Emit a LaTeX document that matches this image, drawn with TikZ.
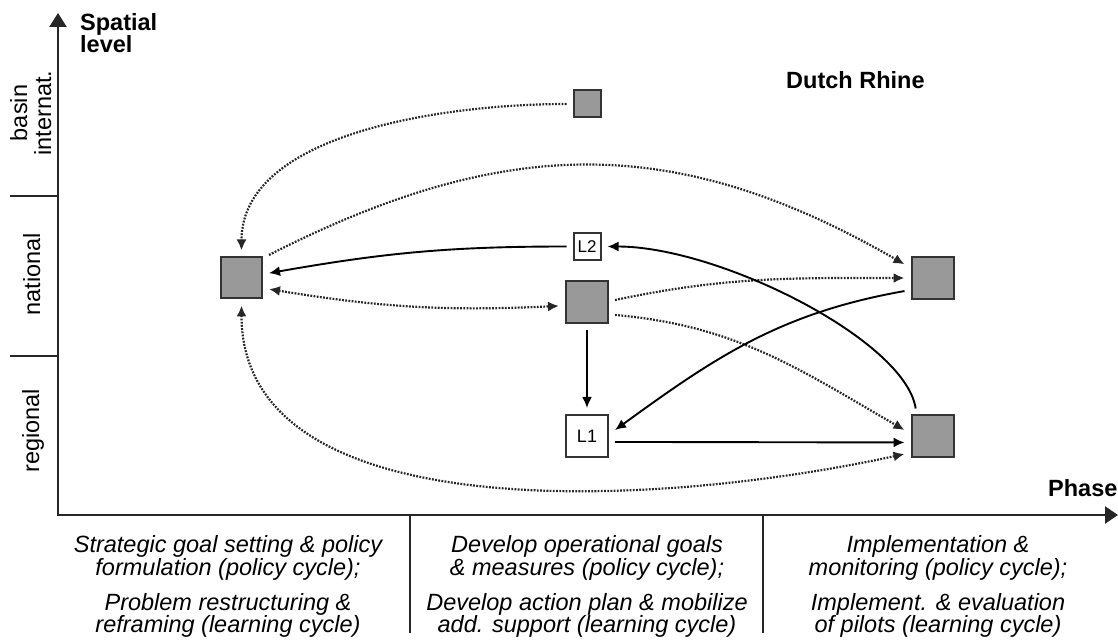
\documentclass[tikz,border=0pt]{standalone}
\usepackage{fontspec}
\setmainfont{Liberation Sans}
\usetikzlibrary{arrows.meta}

\begin{document}
\begin{tikzpicture}[x=1pt, y=1pt,
  >={Latex[length=11pt,width=10pt]},
  box/.style={draw=black!80, fill=black!40, line width=2pt, minimum size=#1,
    inner sep=0pt, outer sep=7pt},
  lbox/.style={draw=black!80, fill=white, line width=2pt, minimum size=#1,
    inner sep=0pt, outer sep=7pt, font=\fontsize{17}{17}\selectfont},
  link/.style={line width=1.9pt, black, ->},
  soft/.style={line width=2.2pt, black!85, dash pattern=on 1.8pt off 1.4pt, ->},
  axis/.style={line width=2.4pt, black!85, {Triangle[length=14pt,width=17pt]}-{Triangle[length=13pt,width=17pt]}},
  tick/.style={line width=1.5pt, black!85},
  title/.style={font=\fontsize{23.5}{24}\selectfont\bfseries, anchor=base west, inner sep=0pt},
  phase/.style={font=\fontsize{23.5}{24}\selectfont\itshape, anchor=base, inner sep=0pt},
  level/.style={font=\fontsize{23.5}{24}\selectfont, rotate=90, anchor=base, inner sep=0pt},
]
\useasboundingbox (0,0) rectangle (1118,640);

% axes and scale dividers
\coordinate (O) at (58,125);
\coordinate (ytip) at (58,627);
\coordinate (xtip) at (1118,125);
\draw[axis] (ytip) -- (O) -- (xtip);
\draw[tick] (10,444) -- (58,444);
\draw[tick] (10,284) -- (58,284);
\draw[tick] (410,125) -- (410,7);
\draw[tick] (763,125) -- (763,7);

% axis titles
\node[title] (sp1) at (80,609) {Spatial};
\node[title] (sp2) at (80,587) {level};
\node[title] (dr) at (786,551) {Dutch Rhine};
\node[title] (ph) at (1048,144) {Phase};

% spatial levels
\node[level] (lb1) at (27,527) {basin};
\node[level] (lb2) at (51,527) {internat.};
\node[level] (ln) at (40,366) {national};
\node[level] (lr) at (39,209) {regional};

% phases
\node[phase] (p11) at (228,88) {Strategic goal setting \& policy};
\node[phase] (p12) at (228,65) {formulation (policy cycle);};
\node[phase] (p13) at (228,30) {Problem restructuring \&};
\node[phase] (p14) at (228,8)  {reframing (learning cycle)};
\node[phase] (p21) at (587,88) {Develop operational goals};
\node[phase] (p22) at (587,65) {\& measures (policy cycle);};
\node[phase] (p23) at (587,30) {Develop action plan \& mobilize};
\node[phase] (p24) at (587,8)  {add. support (learning cycle)};
\node[phase] (p31) at (938,88) {Implementation \&};
\node[phase] (p32) at (938,65) {monitoring (policy cycle);};
\node[phase] (p33) at (938,30) {Implement. \& evaluation};
\node[phase] (p34) at (938,8)  {of pilots (learning cycle)};

% actors / activities
\node[box=27] (A) at (587,536) {};
\node[box=41] (B) at (241.5,362) {};
\node[lbox=27] (L2) at (587,393.5) {L2};
\node[box=42] (C) at (587,337.5) {};
\node[box=42] (D) at (932.5,362) {};
\node[box=42] (E) at (932.5,203.5) {};
\node[lbox=42, font=\fontsize{18}{18}\selectfont] (L1) at (587,204) {L1};

% policy-cycle links (dotted)
\draw[soft] (A.west) to[out=180, in=90, looseness=0.85] (B.north);
\draw[soft] (B.40) .. controls +(236,120) and +(-229,132) .. (D.154);
\draw[soft, <->] (B.-22) to[bend right=6] (C.187);
\draw[soft] (C.5) to[out=12, in=180] (D.west);
\draw[soft] (C.-24) to[out=-5, in=150] (E.167);
\draw[soft, <->] (B.south) .. controls +(0,-224) and +(-253,-55) .. (E.212);

% learning-cycle links (solid)
\draw[link] (L2.west) to[out=180, in=10] (B.10);
\draw[link] (C.south) -- (L1.north);
\draw[link] (D.205) to[out=190, in=36] (L1.12);
\draw[link] (E.121) .. controls +(-10,68) and +(112,0) .. (L2.east);
\draw[link] (L1.-12) -- (E.192);
\end{tikzpicture}
\end{document}
